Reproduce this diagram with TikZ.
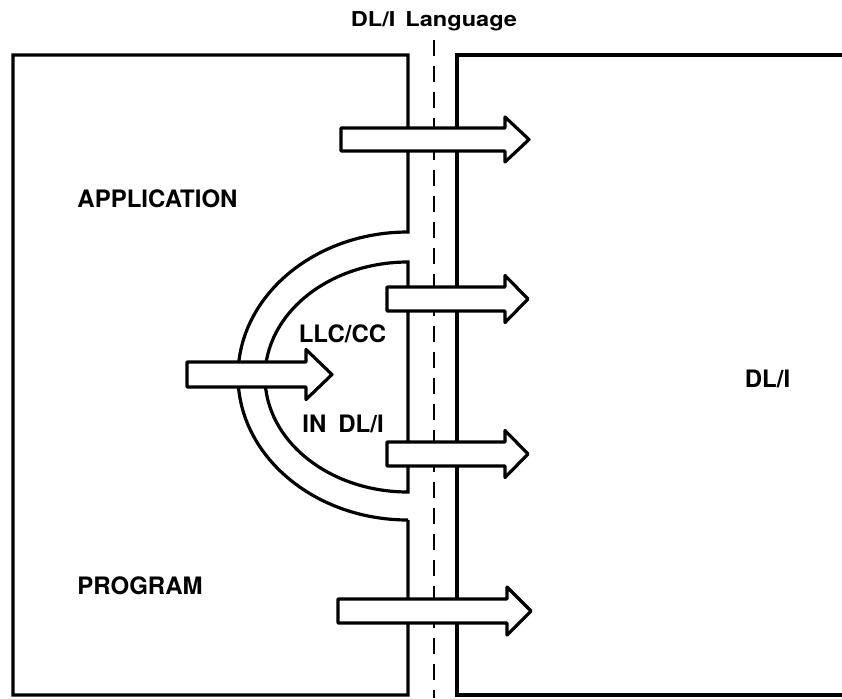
\documentclass[tikz,border=0pt]{standalone}
\usepackage{fontspec}
\setmainfont{TeX Gyre Heros}
\newfontfamily\widefont[FakeStretch=1.15]{TeX Gyre Heros}
\begin{document}
\begin{tikzpicture}[x=1pt,y=-1pt,
  wall/.style={line width=3.2pt, line join=miter},
  midline/.style={line width=2.6pt, dash pattern=on 16pt off 10pt},
  fatarrow/.style={line width=3.2pt, line join=round, fill=white, draw=black},
  label/.style={anchor=base, inner sep=0pt, font=\fontsize{24}{27}\selectfont\bfseries},
  title/.style={anchor=base, inner sep=0pt, font=\widefont\fontsize{20.5}{23}\selectfont\bfseries}]

\useasboundingbox (0,0) rectangle (842,698);

% interface channel: dashed centre line
\draw[midline] (434,40) -- (434,698);

% application box, with the outer wall of the LLC/CC bulge
\draw[wall] (408,520) -- (408,695) -- (13,695) -- (13,55) -- (408,55) -- (408,232)
  arc[start angle=90, end angle=270, x radius=170pt, y radius=144pt];

% inner wall of the bulge
\draw[wall] (408,262)
  arc[start angle=90, end angle=270, x radius=143pt, y radius=115pt] -- cycle;

% DL/I box
\draw[wall] (842,55) -- (457,55) -- (457,695) -- (842,695);

% block arrows: #1 left end, #2 head base, #3 tip, #4 centre y, #5 half shaft, #6 half head
\newcommand\blockarrow[6]{%
  \draw[fatarrow] (#1,#4-#5) -- (#2,#4-#5) -- (#2,#4-#6) -- (#3,#4)
    -- (#2,#4+#6) -- (#2,#4+#5) -- (#1,#4+#5) -- cycle;}

\blockarrow{341}{505}{529}{139.5}{11.5}{22.5}
\blockarrow{387}{505}{528}{299}{12}{23.5}
\blockarrow{387}{505}{528}{454}{12}{23.5}
\blockarrow{338}{507}{531}{611}{12}{24}
\blockarrow{187}{306}{332}{374.5}{12.5}{25}

% labels
\node[title] (lang) at (434,27) {DL/I\hspace{10pt}Language};
\node[label] (app) at (157.5,207) {APPLICATION};
\node[label] (prog) at (140,594) {PROGRAM};
\node[label] (dli) at (767.5,387) {DL/I};
\node[label] (llc) at (342.5,342) {LLC/CC};
\node[label] (indli) at (343,432) {IN\hspace{12pt}DL/I};

\end{tikzpicture}
\end{document}
